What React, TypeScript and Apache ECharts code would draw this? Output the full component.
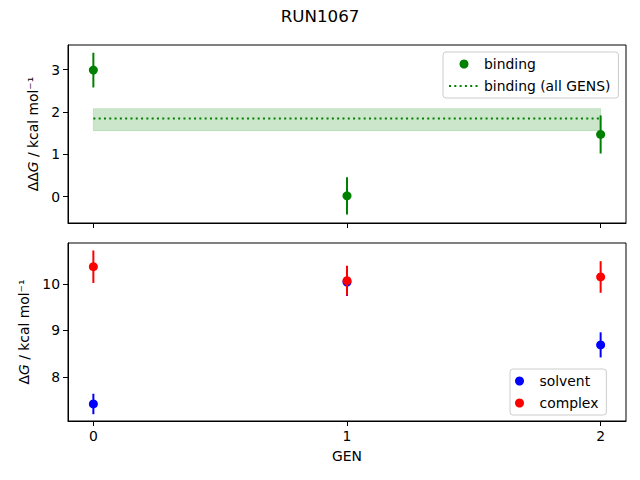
import React, { useEffect, useRef } from "react";
import * as echarts from "echarts";

const gens = [0, 1, 2];
const bindingValues = [2.99, 0.02, 1.47];
const bindingErrors = [0.41, 0.44, 0.45];
const bindingAllValue = 1.85;
const bindingAllLower = 1.56;
const bindingAllUpper = 2.08;
const solventValues = [7.42, 10.04, 8.69];
const solventErrors = [0.22, 0.3, 0.27];
const complexValues = [10.37, 10.07, 10.15];
const complexErrors = [0.35, 0.32, 0.34];
const xTicks = [0, 1, 2];
const topYTicks = [0, 1, 2, 3];
const bottomYTicks = [8, 9, 10];

const FONT = "DejaVu Sans";
const FS = 13.9;

function errSeries(name: string, values: number[], errors: number[], color: string, axisIndex: number, z: number) {
  return {
    type: "custom",
    name,
    xAxisIndex: axisIndex,
    yAxisIndex: axisIndex,
    z,
    encode: { x: 0, y: 1 },
    data: gens.map((g, i) => [g, values[i], errors[i]]),
    renderItem: (params: any, api: any) => {
      const x = api.value(0);
      const y = api.value(1);
      const e = api.value(2);
      const p1 = api.coord([x, y - e]);
      const p2 = api.coord([x, y + e]);
      return {
        type: "line",
        shape: { x1: p1[0], y1: p1[1], x2: p2[0], y2: p2[1] },
        style: { stroke: color, lineWidth: 2 },
      };
    },
  };
}

function scatterSeries(name: string, values: number[], color: string, axisIndex: number, z: number) {
  return {
    type: "scatter",
    name,
    xAxisIndex: axisIndex,
    yAxisIndex: axisIndex,
    z,
    symbol: "circle",
    symbolSize: 9,
    itemStyle: { color, opacity: 1 },
    data: gens.map((g, i) => [g, values[i]]),
  };
}

const axisCommon = {
  axisLine: { show: true, onZero: false, lineStyle: { color: "#000", width: 1 } },
  axisTick: { show: true, inside: false, length: 5, lineStyle: { color: "#000", width: 1 } },
  splitLine: { show: false },
};

const legendCommon = {
  orient: "vertical",
  padding: [5, 8, 5, 5],
  itemGap: 8,
  itemWidth: 30,
  itemHeight: 9,
  backgroundColor: "rgba(255,255,255,0.8)",
  borderColor: "#cccccc",
  borderWidth: 1,
  borderRadius: 3,
  selectedMode: false,
  textStyle: { fontSize: FS, fontFamily: FONT, color: "#000" },
};

export default function App() {
  const ref = useRef<HTMLDivElement>(null);
  useEffect(() => {
    if (!ref.current) return;
    const chart = echarts.init(ref.current, undefined, { renderer: "svg" });
    const option: any = {
      animation: false,
      backgroundColor: "#fff",
      textStyle: { fontFamily: FONT },
      title: {
        text: "RUN1067",
        left: "center",
        top: 2,
        textStyle: { fontSize: 16.7, fontWeight: "normal", fontFamily: FONT, color: "#000" },
      },
      grid: [
        { left: 68, top: 45, width: 558, height: 178, show: true, borderColor: "#000", borderWidth: 1, backgroundColor: "transparent" },
        { left: 68, top: 243, width: 558, height: 178, show: true, borderColor: "#000", borderWidth: 1, backgroundColor: "transparent" },
      ],
      xAxis: [
        {
          ...axisCommon,
          type: "value",
          gridIndex: 0,
          min: -0.1,
          max: 2.1,
          axisTick: { ...axisCommon.axisTick, customValues: xTicks },
          axisLabel: { show: false, customValues: xTicks },
        },
        {
          ...axisCommon,
          type: "value",
          gridIndex: 1,
          min: -0.1,
          max: 2.1,
          name: "GEN",
          nameLocation: "middle",
          nameGap: 28,
          nameTextStyle: { fontSize: FS, fontFamily: FONT, color: "#000" },
          axisTick: { ...axisCommon.axisTick, customValues: xTicks },
          axisLabel: { customValues: xTicks, margin: 8, fontSize: FS, fontFamily: FONT, color: "#000" },
        },
      ],
      yAxis: [
        {
          ...axisCommon,
          type: "value",
          gridIndex: 0,
          min: -0.621,
          max: 3.583,
          name: "{a|ΔΔ}{i|G}{a| / kcal mol⁻¹}",
          nameLocation: "middle",
          nameGap: 27,
          nameTextStyle: {
            fontSize: FS,
            fontFamily: FONT,
            color: "#000",
            rich: {
              a: { fontSize: FS, fontFamily: FONT, color: "#000" },
              i: { fontSize: FS, fontFamily: FONT, fontStyle: "italic", color: "#000" },
            },
          },
          axisTick: { ...axisCommon.axisTick, customValues: topYTicks },
          axisLabel: { customValues: topYTicks, margin: 8, fontSize: FS, fontFamily: FONT, color: "#000" },
        },
        {
          ...axisCommon,
          type: "value",
          gridIndex: 1,
          min: 7.054,
          max: 10.88,
          name: "{a|Δ}{i|G}{a| / kcal mol⁻¹}",
          nameLocation: "middle",
          nameGap: 36,
          nameTextStyle: {
            fontSize: FS,
            fontFamily: FONT,
            color: "#000",
            rich: {
              a: { fontSize: FS, fontFamily: FONT, color: "#000" },
              i: { fontSize: FS, fontFamily: FONT, fontStyle: "italic", color: "#000" },
            },
          },
          axisTick: { ...axisCommon.axisTick, customValues: bottomYTicks },
          axisLabel: { customValues: bottomYTicks, margin: 8, fontSize: FS, fontFamily: FONT, color: "#000" },
        },
      ],
      legend: [
        {
          ...legendCommon,
          left: 443,
          top: 52,
          data: [
            { name: "binding", icon: "circle" },
            { name: "binding (all GENS)", itemStyle: { opacity: 0 } },
          ],
        },
        {
          ...legendCommon,
          left: 510,
          top: 369,
          data: [
            { name: "solvent", icon: "circle" },
            { name: "complex", icon: "circle" },
          ],
        },
      ],
      series: [
        {
          type: "line",
          name: "binding (all GENS)",
          xAxisIndex: 0,
          yAxisIndex: 0,
          z: 2,
          symbol: "none",
          color: "green",
          lineStyle: { color: "green", width: 2, type: [2, 3.3] },
          data: [
            [gens[0], bindingAllValue],
            [gens[gens.length - 1], bindingAllValue],
          ],
          markArea: {
            silent: true,
            itemStyle: { color: "rgba(0,128,0,0.2)", borderColor: "rgba(0,128,0,0.15)", borderWidth: 1 },
            data: [
              [
                { coord: [gens[0], bindingAllLower] },
                { coord: [gens[gens.length - 1], bindingAllUpper] },
              ],
            ],
          },
        },
        errSeries("binding-err", bindingValues, bindingErrors, "green", 0, 3),
        scatterSeries("binding", bindingValues, "green", 0, 4),
        errSeries("solvent-err", solventValues, solventErrors, "blue", 1, 3),
        scatterSeries("solvent", solventValues, "blue", 1, 4),
        errSeries("complex-err", complexValues, complexErrors, "red", 1, 5),
        scatterSeries("complex", complexValues, "red", 1, 6),
      ],
    };
    chart.setOption(option);
    return () => chart.dispose();
  }, []);
  return <div ref={ref} style={{ position: "fixed", left: 0, top: 0, width: 640, height: 480 }} />;
}
